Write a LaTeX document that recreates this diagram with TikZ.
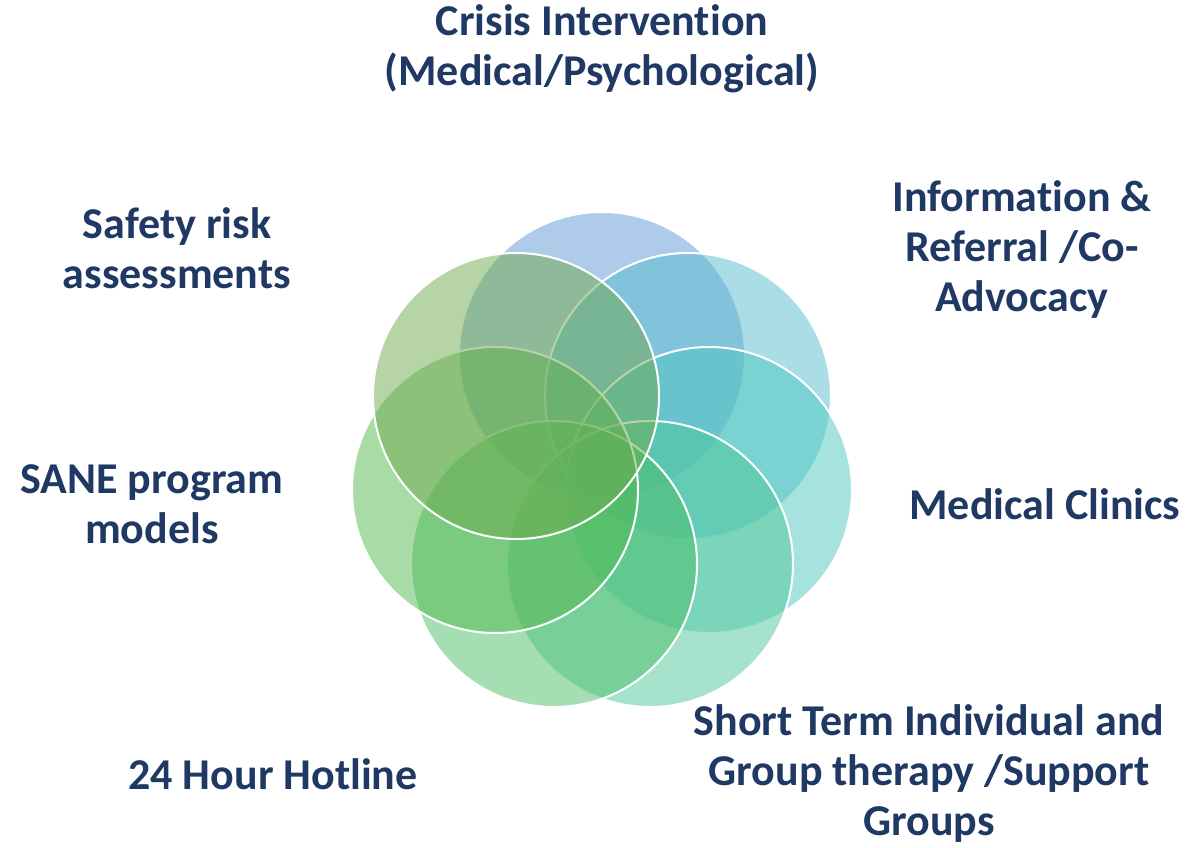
\documentclass[tikz,border=0pt]{standalone}
\usepackage{fontspec}
\setmainfont{Carlito}[RawFeature=-liga]
\definecolor{txt}{RGB}{31,56,100}
\definecolor{cA}{RGB}{93,151,211}
\definecolor{cB}{RGB}{87,187,207}
\definecolor{cC}{RGB}{77,199,189}
\definecolor{cD}{RGB}{79,199,153}
\definecolor{cE}{RGB}{73,189,101}
\definecolor{cF}{RGB}{81,183,77}
\definecolor{cG}{RGB}{111,169,77}
\begin{document}
\begin{tikzpicture}[x=1pt,y=-1pt,
  ring/.style={circle,draw=white,line width=2pt,fill opacity=0.5,minimum size=286pt,inner sep=0pt},
  lbl/.style={text=txt,font=\fontsize{44}{50}\selectfont\bfseries,align=center,inner sep=0pt}]
\useasboundingbox (0,0) rectangle (1191,847);
\node[ring,fill=cA] (c1) at (602,355) {};
\node[ring,fill=cB] (c2) at (688,396) {};
\node[ring,fill=cC] (c3) at (709,490) {};
\node[ring,fill=cD] (c4) at (650,564) {};
\node[ring,fill=cE] (c5) at (554,564) {};
\node[ring,fill=cF] (c6) at (495,490) {};
\node[ring,fill=cG] (c7) at (516,396) {};
\node[lbl] (t1) at (602,49) {Crisis Intervention\\(Medical/Psychological)};
\node[lbl] (t2) at (1022,250) {Information \&\\Referral /Co-\\Advocacy};
\node[lbl] (t3) at (1045,504) {Medical Clinics};
\node[lbl] (t4) at (929,774) {Short Term Individual and\\Group therapy /Support\\Groups};
\node[lbl] (t5) at (273,774) {24 Hour Hotline};
\node[lbl] (t6) at (152,504) {SANE program\\models};
\node[lbl] (t7) at (177,248) {Safety risk\\assessments};
\end{tikzpicture}
\end{document}
